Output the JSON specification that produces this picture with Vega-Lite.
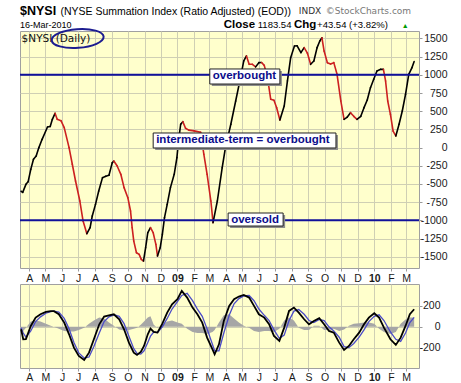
{
  "$schema": "https://vega.github.io/schema/vega-lite/v6.json",
  "background": "white",
  "padding": {"left": 16, "top": 4, "right": 5, "bottom": 3},
  "autosize": {"type": "pad"},
  "datasets": {
    "notes": [
      {"label": "overbought", "start": "2009-03-02", "end": "2009-07-10", "top": 1081, "bottom": 874, "mid": 978},
      {"label": "intermediate-term = overbought", "start": "2008-11-17", "end": "2009-10-22", "top": 201, "bottom": -5, "mid": 98},
      {"label": "oversold", "start": "2009-04-05", "end": "2009-07-16", "top": -899, "bottom": -1078, "mid": -989}
    ],
    "one": [{}]
  },
  "config": {
    "view": {"fill": "#ffffcc", "stroke": "#a0a0a0", "strokeWidth": 1},
    "axis": {"labelFont": "Liberation Sans", "labelFontSize": 10.5, "labelColor": "#1a1a1a", "gridColor": "#cfcfb4", "gridWidth": 1, "domain": false, "tickColor": "#9a9a9a", "tickSize": 3, "labelOverlap": false}
  },
  "bounds": "flush",
  "spacing": 16,
  "resolve": {"scale": {"x": "independent", "y": "independent"}},
  "vconcat": [
    {
      "width": 399,
      "height": 237,
      "encoding": {
        "y": {
          "type": "quantitative",
          "scale": {"domain": [-1655, 1603], "nice": false, "zero": false},
          "axis": {
            "title": null, "orient": "right", "grid": true,
            "values": [-1500, -1250, -1000, -750, -500, -250, 0, 250, 500, 750, 1000, 1250, 1500],
            "tickCount": 13, "labelOverlap": false, "labelSeparation": 0,
            "labelExpr": "replace(format(datum.value, 'd'), '\u2212', '-')", "labelAlign": "right", "labelPadding": 25, "labelFlush": false
          }
        }
      },
      "layer": [
        {
          "data": {
            "values": [
              {"date": "2008-03-17", "v": -600, "trend": "up"},
              {"date": "2008-03-20", "v": -615, "trend": "up"},
              {"date": "2008-03-26", "v": -505, "trend": "up"},
              {"date": "2008-03-30", "v": -470, "trend": "up"},
              {"date": "2008-04-04", "v": -299, "trend": "up"},
              {"date": "2008-04-09", "v": -161, "trend": "up"},
              {"date": "2008-04-14", "v": -115, "trend": "up"},
              {"date": "2008-04-19", "v": 0, "trend": "up"},
              {"date": "2008-04-25", "v": 114, "trend": "up"},
              {"date": "2008-05-05", "v": 283, "trend": "up"},
              {"date": "2008-05-10", "v": 290, "trend": "up"},
              {"date": "2008-05-14", "v": 389, "trend": "up"},
              {"date": "2008-05-19", "v": 471, "trend": "down"},
              {"date": "2008-05-23", "v": 389, "trend": "down"},
              {"date": "2008-05-30", "v": 370, "trend": "down"},
              {"date": "2008-06-05", "v": 274, "trend": "down"},
              {"date": "2008-06-14", "v": 0, "trend": "down"},
              {"date": "2008-06-20", "v": -229, "trend": "down"},
              {"date": "2008-06-26", "v": -459, "trend": "down"},
              {"date": "2008-07-04", "v": -734, "trend": "down"},
              {"date": "2008-07-10", "v": -1009, "trend": "down"},
              {"date": "2008-07-17", "v": -1184, "trend": "up"},
              {"date": "2008-07-23", "v": -1101, "trend": "up"},
              {"date": "2008-07-27", "v": -940, "trend": "up"},
              {"date": "2008-08-02", "v": -780, "trend": "up"},
              {"date": "2008-08-08", "v": -597, "trend": "up"},
              {"date": "2008-08-15", "v": -413, "trend": "up"},
              {"date": "2008-08-21", "v": -395, "trend": "up"},
              {"date": "2008-08-27", "v": -380, "trend": "up"},
              {"date": "2008-09-02", "v": -210, "trend": "up"},
              {"date": "2008-09-05", "v": -185, "trend": "down"},
              {"date": "2008-09-11", "v": -250, "trend": "down"},
              {"date": "2008-09-18", "v": -367, "trend": "down"},
              {"date": "2008-09-24", "v": -550, "trend": "down"},
              {"date": "2008-10-01", "v": -688, "trend": "down"},
              {"date": "2008-10-06", "v": -871, "trend": "down"},
              {"date": "2008-10-09", "v": -1101, "trend": "down"},
              {"date": "2008-10-12", "v": -1285, "trend": "down"},
              {"date": "2008-10-17", "v": -1445, "trend": "down"},
              {"date": "2008-10-22", "v": -1468, "trend": "down"},
              {"date": "2008-10-26", "v": -1536, "trend": "down"},
              {"date": "2008-10-30", "v": -1559, "trend": "up"},
              {"date": "2008-11-03", "v": -1376, "trend": "up"},
              {"date": "2008-11-07", "v": -1170, "trend": "up"},
              {"date": "2008-11-12", "v": -1101, "trend": "down"},
              {"date": "2008-11-17", "v": -1170, "trend": "down"},
              {"date": "2008-11-22", "v": -1330, "trend": "down"},
              {"date": "2008-11-25", "v": -1490, "trend": "up"},
              {"date": "2008-11-30", "v": -1376, "trend": "up"},
              {"date": "2008-12-04", "v": -1192, "trend": "up"},
              {"date": "2008-12-08", "v": -963, "trend": "up"},
              {"date": "2008-12-13", "v": -780, "trend": "up"},
              {"date": "2008-12-19", "v": -550, "trend": "up"},
              {"date": "2008-12-26", "v": -367, "trend": "up"},
              {"date": "2008-12-31", "v": -138, "trend": "up"},
              {"date": "2009-01-03", "v": 92, "trend": "up"},
              {"date": "2009-01-07", "v": 321, "trend": "up"},
              {"date": "2009-01-11", "v": 357, "trend": "down"},
              {"date": "2009-01-16", "v": 266, "trend": "down"},
              {"date": "2009-01-22", "v": 240, "trend": "down"},
              {"date": "2009-02-01", "v": 230, "trend": "down"},
              {"date": "2009-02-13", "v": 210, "trend": "down"},
              {"date": "2009-02-19", "v": -92, "trend": "down"},
              {"date": "2009-02-25", "v": -367, "trend": "down"},
              {"date": "2009-03-04", "v": -734, "trend": "down"},
              {"date": "2009-03-08", "v": -1032, "trend": "up"},
              {"date": "2009-03-16", "v": -734, "trend": "up"},
              {"date": "2009-03-25", "v": -276, "trend": "up"},
              {"date": "2009-03-31", "v": 0, "trend": "up"},
              {"date": "2009-04-10", "v": 321, "trend": "up"},
              {"date": "2009-04-19", "v": 641, "trend": "up"},
              {"date": "2009-04-28", "v": 961, "trend": "up"},
              {"date": "2009-05-04", "v": 1191, "trend": "up"},
              {"date": "2009-05-09", "v": 1260, "trend": "down"},
              {"date": "2009-05-14", "v": 1145, "trend": "down"},
              {"date": "2009-05-20", "v": 1145, "trend": "down"},
              {"date": "2009-05-26", "v": 1110, "trend": "up"},
              {"date": "2009-06-01", "v": 1168, "trend": "up"},
              {"date": "2009-06-06", "v": 1170, "trend": "down"},
              {"date": "2009-06-11", "v": 1130, "trend": "down"},
              {"date": "2009-06-17", "v": 961, "trend": "down"},
              {"date": "2009-06-23", "v": 664, "trend": "down"},
              {"date": "2009-06-29", "v": 650, "trend": "down"},
              {"date": "2009-07-04", "v": 549, "trend": "down"},
              {"date": "2009-07-10", "v": 380, "trend": "up"},
              {"date": "2009-07-18", "v": 572, "trend": "up"},
              {"date": "2009-07-24", "v": 916, "trend": "up"},
              {"date": "2009-07-30", "v": 1237, "trend": "up"},
              {"date": "2009-08-06", "v": 1397, "trend": "up"},
              {"date": "2009-08-11", "v": 1400, "trend": "up"},
              {"date": "2009-08-18", "v": 1305, "trend": "up"},
              {"date": "2009-08-24", "v": 1374, "trend": "down"},
              {"date": "2009-08-30", "v": 1300, "trend": "down"},
              {"date": "2009-09-05", "v": 1145, "trend": "up"},
              {"date": "2009-09-11", "v": 1191, "trend": "up"},
              {"date": "2009-09-17", "v": 1374, "trend": "up"},
              {"date": "2009-09-22", "v": 1466, "trend": "up"},
              {"date": "2009-09-26", "v": 1510, "trend": "down"},
              {"date": "2009-09-30", "v": 1328, "trend": "down"},
              {"date": "2009-10-06", "v": 1168, "trend": "down"},
              {"date": "2009-10-12", "v": 1150, "trend": "down"},
              {"date": "2009-10-18", "v": 1168, "trend": "down"},
              {"date": "2009-10-24", "v": 1008, "trend": "down"},
              {"date": "2009-10-31", "v": 641, "trend": "down"},
              {"date": "2009-11-06", "v": 389, "trend": "up"},
              {"date": "2009-11-12", "v": 420, "trend": "up"},
              {"date": "2009-11-18", "v": 480, "trend": "down"},
              {"date": "2009-11-24", "v": 430, "trend": "down"},
              {"date": "2009-11-30", "v": 389, "trend": "up"},
              {"date": "2009-12-07", "v": 430, "trend": "up"},
              {"date": "2009-12-13", "v": 549, "trend": "up"},
              {"date": "2009-12-19", "v": 654, "trend": "up"},
              {"date": "2009-12-25", "v": 824, "trend": "up"},
              {"date": "2009-12-31", "v": 939, "trend": "up"},
              {"date": "2010-01-06", "v": 1053, "trend": "up"},
              {"date": "2010-01-13", "v": 1076, "trend": "up"},
              {"date": "2010-01-18", "v": 1076, "trend": "down"},
              {"date": "2010-01-22", "v": 916, "trend": "down"},
              {"date": "2010-01-26", "v": 641, "trend": "down"},
              {"date": "2010-01-31", "v": 458, "trend": "down"},
              {"date": "2010-02-05", "v": 228, "trend": "down"},
              {"date": "2010-02-10", "v": 160, "trend": "up"},
              {"date": "2010-02-16", "v": 321, "trend": "up"},
              {"date": "2010-02-22", "v": 503, "trend": "up"},
              {"date": "2010-02-28", "v": 733, "trend": "up"},
              {"date": "2010-03-06", "v": 1008, "trend": "up"},
              {"date": "2010-03-12", "v": 1100, "trend": "up"},
              {"date": "2010-03-16", "v": 1184, "trend": "up"}
            ],
            "format": {"parse": {"date": "date"}}
          },
          "transform": [
            {"window": [{"op": "lead", "field": "date", "as": "date2"}, {"op": "lead", "field": "v", "as": "v2"}], "sort": [{"field": "date", "order": "ascending"}]},
            {"filter": "isValid(datum.v2)"}
          ],
          "mark": {"type": "rule", "strokeWidth": 1.6, "strokeCap": "round"},
          "encoding": {
            "x": {
              "field": "date", "type": "temporal",
              "scale": {"type": "utc", "domain": [{"year": 2008, "month": 3, "date": 15, "utc": true}, {"year": 2010, "month": 3, "date": 25, "utc": true}]},
              "axis": {
                "title": null, "orient": "bottom", "grid": true,
                "tickCount": {"interval": "month", "step": 1},
                "labelExpr": "utcmonth(datum.value) == 0 ? utcFormat(datum.value, '%y') : slice(utcFormat(datum.value, '%b'), 0, 1)",
                "labelFontWeight": {"condition": {"test": "utcmonth(datum.value) == 0", "value": "bold"}, "value": "normal"},
                "labelPadding": 2, "labelFlush": false, "labelOverlap": false, "labelAngle": 0
              }
            },
            "x2": {"field": "date2"},
            "y": {"field": "v"},
            "y2": {"field": "v2"},
            "color": {"field": "trend", "type": "nominal", "scale": {"domain": ["up", "down"], "range": ["#000000", "#cc2020"]}, "legend": null}
          }
        },
        {
          "data": {"values": [{"lvl": 1000}, {"lvl": -1000}]},
          "mark": {"type": "rule", "color": "#10109a", "strokeWidth": 2},
          "encoding": {"y": {"field": "lvl"}}
        },
        {
          "data": {"name": "notes"},
          "mark": {"type": "rect", "color": "#8c8c8c", "xOffset": 2, "x2Offset": 2, "yOffset": 2, "y2Offset": 2},
          "encoding": {
            "x": {"field": "start", "type": "temporal"},
            "x2": {"field": "end"},
            "y": {"field": "top"},
            "y2": {"field": "bottom"}
          }
        },
        {
          "data": {"name": "notes"},
          "mark": {"type": "rect", "fill": "#ffffff", "stroke": "#222222", "strokeWidth": 1},
          "encoding": {
            "x": {"field": "start", "type": "temporal"},
            "x2": {"field": "end"},
            "y": {"field": "top"},
            "y2": {"field": "bottom"}
          }
        },
        {
          "data": {"name": "notes"},
          "mark": {"type": "text", "align": "left", "baseline": "middle", "dx": 3, "font": "Liberation Sans", "fontSize": 11.5, "fontWeight": "bold", "color": "#0c0c8c"},
          "encoding": {
            "x": {"field": "start", "type": "temporal"},
            "y": {"field": "mid"},
            "text": {"field": "label"}
          }
        },
        {
          "data": {"name": "one"},
          "mark": {"type": "text", "align": "left", "baseline": "alphabetic", "font": "DejaVu Sans", "fontSize": 10.5, "color": "#111111", "text": "$NYSI (Daily)"},
          "encoding": {
            "x": {"datum": {"year": 2008, "month": 3, "date": 18, "utc": true}, "type": "temporal"},
            "y": {"datum": 1452}
          }
        },
        {
          "data": {"name": "one"},
          "mark": {"type": "point", "shape": "M-1,0A1,0.36,0,1,1,1,0A1,0.36,0,1,1,-1,0Z", "size": 2704, "filled": false, "stroke": "#1c1c90", "strokeWidth": 2, "opacity": 1, "angle": -4},
          "encoding": {
            "x": {"datum": {"year": 2008, "month": 6, "date": 30, "utc": true}, "type": "temporal"},
            "y": {"datum": 1500}
          }
        },
        {
          "data": {"name": "one"},
          "mark": {"type": "text", "align": "left", "baseline": "alphabetic", "font": "Liberation Sans", "color": "#000000", "fontSize": 12.5, "fontWeight": "bold", "text": "$NYSI"},
          "encoding": {
            "x": {"datum": {"year": 2008, "month": 3, "date": 15, "utc": true}, "type": "temporal"},
            "y": {"datum": 1826}
          }
        },
        {
          "data": {"name": "one"},
          "mark": {"type": "text", "align": "left", "baseline": "alphabetic", "font": "Liberation Sans", "color": "#000000", "fontSize": 10.5, "text": "(NYSE Summation Index (Ratio Adjusted) (EOD))"},
          "encoding": {
            "x": {"datum": {"year": 2008, "month": 5, "date": 29, "utc": true}, "type": "temporal"},
            "y": {"datum": 1827}
          }
        },
        {
          "data": {"name": "one"},
          "mark": {"type": "text", "align": "left", "baseline": "alphabetic", "font": "DejaVu Sans", "fontSize": 9, "color": "#333333", "text": "INDX"},
          "encoding": {
            "x": {"datum": {"year": 2009, "month": 8, "date": 14, "utc": true}, "type": "temporal"},
            "y": {"datum": 1830}
          }
        },
        {
          "data": {"name": "one"},
          "mark": {"type": "text", "align": "left", "baseline": "alphabetic", "font": "DejaVu Sans", "fontSize": 9, "color": "#777777", "text": "©StockCharts.com"},
          "encoding": {
            "x": {"datum": {"year": 2009, "month": 10, "date": 3, "utc": true}, "type": "temporal"},
            "y": {"datum": 1830}
          }
        },
        {
          "data": {"name": "one"},
          "mark": {"type": "text", "align": "left", "baseline": "alphabetic", "font": "Liberation Sans", "color": "#000000", "fontSize": 9, "text": "16-Mar-2010"},
          "encoding": {
            "x": {"datum": {"year": 2008, "month": 3, "date": 15, "utc": true}, "type": "temporal"},
            "y": {"datum": 1648}
          }
        },
        {
          "data": {"name": "one"},
          "mark": {"type": "text", "align": "left", "baseline": "alphabetic", "font": "Liberation Sans", "color": "#000000", "fontSize": 11.5, "fontWeight": "bold", "text": "Close"},
          "encoding": {
            "x": {"datum": {"year": 2009, "month": 3, "date": 28, "utc": true}, "type": "temporal"},
            "y": {"datum": 1644}
          }
        },
        {
          "data": {"name": "one"},
          "mark": {"type": "text", "align": "left", "baseline": "alphabetic", "font": "Liberation Sans", "color": "#000000", "fontSize": 9.5, "text": "1183.54"},
          "encoding": {
            "x": {"datum": {"year": 2009, "month": 5, "date": 30, "utc": true}, "type": "temporal"},
            "y": {"datum": 1644}
          }
        },
        {
          "data": {"name": "one"},
          "mark": {"type": "text", "align": "left", "baseline": "alphabetic", "font": "Liberation Sans", "color": "#000000", "fontSize": 11.5, "fontWeight": "bold", "text": "Chg"},
          "encoding": {
            "x": {"datum": {"year": 2009, "month": 8, "date": 5, "utc": true}, "type": "temporal"},
            "y": {"datum": 1644}
          }
        },
        {
          "data": {"name": "one"},
          "mark": {"type": "text", "align": "left", "baseline": "alphabetic", "font": "Liberation Sans", "color": "#000000", "fontSize": 9.5, "text": "+43.54 (+3.82%)"},
          "encoding": {
            "x": {"datum": {"year": 2009, "month": 9, "date": 17, "utc": true}, "type": "temporal"},
            "y": {"datum": 1644}
          }
        },
        {
          "data": {"name": "one"},
          "mark": {"type": "text", "align": "left", "baseline": "alphabetic", "font": "Liberation Sans", "fontSize": 7, "color": "#009a00", "text": "▲"},
          "encoding": {
            "x": {"datum": {"year": 2010, "month": 2, "date": 21, "utc": true}, "type": "temporal"},
            "y": {"datum": 1651}
          }
        }
      ]
    },
    {
      "width": 399,
      "height": 84,
      "data": {
        "values": [
          {"date": "2008-03-17", "osc": -24, "sig": -10, "hist": -10},
          {"date": "2008-03-21", "osc": -120, "sig": -60, "hist": -40},
          {"date": "2008-03-26", "osc": -118, "sig": -100, "hist": -10},
          {"date": "2008-04-04", "osc": 8, "sig": -40, "hist": 50},
          {"date": "2008-04-13", "osc": 88, "sig": 50, "hist": 60},
          {"date": "2008-04-22", "osc": 120, "sig": 95, "hist": 50},
          {"date": "2008-05-02", "osc": 142, "sig": 130, "hist": 30},
          {"date": "2008-05-11", "osc": 150, "sig": 145, "hist": 10},
          {"date": "2008-05-17", "osc": 150, "sig": 150, "hist": 0},
          {"date": "2008-05-26", "osc": 120, "sig": 140, "hist": -20},
          {"date": "2008-06-05", "osc": 40, "sig": 80, "hist": -40},
          {"date": "2008-06-14", "osc": -72, "sig": -20, "hist": -45},
          {"date": "2008-06-23", "osc": -200, "sig": -150, "hist": -45},
          {"date": "2008-07-02", "osc": -280, "sig": -250, "hist": -30},
          {"date": "2008-07-12", "osc": -318, "sig": -300, "hist": -10},
          {"date": "2008-07-21", "osc": -248, "sig": -290, "hist": 30},
          {"date": "2008-07-30", "osc": -120, "sig": -190, "hist": 60},
          {"date": "2008-08-09", "osc": 24, "sig": -60, "hist": 90},
          {"date": "2008-08-18", "osc": 98, "sig": 50, "hist": 80},
          {"date": "2008-08-27", "osc": 110, "sig": 95, "hist": 40},
          {"date": "2008-09-05", "osc": 120, "sig": 115, "hist": 10},
          {"date": "2008-09-15", "osc": 72, "sig": 100, "hist": -25},
          {"date": "2008-09-24", "osc": -24, "sig": 30, "hist": -35},
          {"date": "2008-10-03", "osc": -152, "sig": -90, "hist": -30},
          {"date": "2008-10-12", "osc": -248, "sig": -210, "hist": -20},
          {"date": "2008-10-18", "osc": -270, "sig": -255, "hist": -10},
          {"date": "2008-10-25", "osc": -240, "sig": -262, "hist": 20},
          {"date": "2008-10-31", "osc": -184, "sig": -230, "hist": 50},
          {"date": "2008-11-07", "osc": -72, "sig": -150, "hist": 90},
          {"date": "2008-11-12", "osc": -18, "sig": -90, "hist": 100},
          {"date": "2008-11-18", "osc": -50, "sig": -50, "hist": 20},
          {"date": "2008-11-25", "osc": -56, "sig": -55, "hist": -10},
          {"date": "2008-12-04", "osc": 30, "sig": 0, "hist": 20},
          {"date": "2008-12-13", "osc": 136, "sig": 80, "hist": 50},
          {"date": "2008-12-22", "osc": 216, "sig": 170, "hist": 60},
          {"date": "2009-01-01", "osc": 264, "sig": 240, "hist": 40},
          {"date": "2009-01-09", "osc": 344, "sig": 300, "hist": 30},
          {"date": "2009-01-19", "osc": 280, "sig": 320, "hist": -20},
          {"date": "2009-01-29", "osc": 184, "sig": 250, "hist": -50},
          {"date": "2009-02-07", "osc": 120, "sig": 170, "hist": -60},
          {"date": "2009-02-16", "osc": 40, "sig": 100, "hist": -60},
          {"date": "2009-02-25", "osc": -104, "sig": -20, "hist": -70},
          {"date": "2009-03-07", "osc": -216, "sig": -170, "hist": -50},
          {"date": "2009-03-11", "osc": -264, "sig": -230, "hist": -30},
          {"date": "2009-03-19", "osc": -168, "sig": -230, "hist": 40},
          {"date": "2009-03-28", "osc": 56, "sig": -60, "hist": 110},
          {"date": "2009-04-07", "osc": 200, "sig": 110, "hist": 120},
          {"date": "2009-04-16", "osc": 264, "sig": 220, "hist": 80},
          {"date": "2009-04-25", "osc": 290, "sig": 270, "hist": 40},
          {"date": "2009-05-04", "osc": 305, "sig": 295, "hist": 10},
          {"date": "2009-05-14", "osc": 280, "sig": 300, "hist": -10},
          {"date": "2009-05-23", "osc": 200, "sig": 250, "hist": -40},
          {"date": "2009-06-01", "osc": 120, "sig": 170, "hist": -50},
          {"date": "2009-06-11", "osc": 88, "sig": 110, "hist": -40},
          {"date": "2009-06-20", "osc": 24, "sig": 60, "hist": -40},
          {"date": "2009-06-29", "osc": -88, "sig": -30, "hist": -50},
          {"date": "2009-07-09", "osc": -136, "sig": -110, "hist": -20},
          {"date": "2009-07-18", "osc": -8, "sig": -80, "hist": 60},
          {"date": "2009-07-27", "osc": 152, "sig": 60, "hist": 90},
          {"date": "2009-08-05", "osc": 184, "sig": 150, "hist": 60},
          {"date": "2009-08-14", "osc": 136, "sig": 165, "hist": -10},
          {"date": "2009-08-24", "osc": 72, "sig": 120, "hist": -30},
          {"date": "2009-09-02", "osc": 24, "sig": 60, "hist": -30},
          {"date": "2009-09-11", "osc": 56, "sig": 40, "hist": 10},
          {"date": "2009-09-21", "osc": 82, "sig": 70, "hist": 10},
          {"date": "2009-09-30", "osc": 24, "sig": 60, "hist": -30},
          {"date": "2009-10-09", "osc": -40, "sig": 0, "hist": -30},
          {"date": "2009-10-18", "osc": -56, "sig": -40, "hist": -20},
          {"date": "2009-10-28", "osc": -152, "sig": -100, "hist": -40},
          {"date": "2009-11-06", "osc": -222, "sig": -190, "hist": -25},
          {"date": "2009-11-15", "osc": -184, "sig": -200, "hist": 10},
          {"date": "2009-11-24", "osc": -120, "sig": -160, "hist": 30},
          {"date": "2009-12-04", "osc": -56, "sig": -100, "hist": 35},
          {"date": "2009-12-13", "osc": 24, "sig": -30, "hist": 40},
          {"date": "2009-12-22", "osc": 88, "sig": 50, "hist": 40},
          {"date": "2010-01-01", "osc": 130, "sig": 100, "hist": 30},
          {"date": "2010-01-10", "osc": 88, "sig": 115, "hist": -20},
          {"date": "2010-01-19", "osc": -8, "sig": 60, "hist": -50},
          {"date": "2010-01-31", "osc": -120, "sig": -50, "hist": -70},
          {"date": "2010-02-10", "osc": -174, "sig": -120, "hist": -50},
          {"date": "2010-02-19", "osc": -104, "sig": -140, "hist": 30},
          {"date": "2010-02-28", "osc": 8, "sig": -60, "hist": 70},
          {"date": "2010-03-08", "osc": 120, "sig": 40, "hist": 90},
          {"date": "2010-03-16", "osc": 168, "sig": 90, "hist": 90}
        ],
        "format": {"parse": {"date": "date"}}
      },
      "layer": [
        {
          "mark": {"type": "area", "color": "#a6a6a6", "opacity": 1},
          "encoding": {
            "x": {
              "field": "date", "type": "temporal",
              "scale": {"type": "utc", "domain": [{"year": 2008, "month": 3, "date": 15, "utc": true}, {"year": 2010, "month": 3, "date": 25, "utc": true}]},
              "axis": {
                "title": null, "orient": "bottom", "grid": true,
                "tickCount": {"interval": "month", "step": 1},
                "labelExpr": "utcmonth(datum.value) == 0 ? utcFormat(datum.value, '%y') : slice(utcFormat(datum.value, '%b'), 0, 1)",
                "labelFontWeight": {"condition": {"test": "utcmonth(datum.value) == 0", "value": "bold"}, "value": "normal"},
                "labelPadding": 1, "labelFlush": false, "labelOverlap": false, "labelAngle": 0
              }
            },
            "y": {
              "field": "hist", "type": "quantitative",
              "scale": {"domain": [-395, 410], "nice": false, "zero": false},
              "axis": {
                "title": null, "orient": "right", "grid": true,
                "values": [-200, 0, 200],
                "labelExpr": "replace(format(datum.value, 'd'), '\u2212', '-')", "labelAlign": "right", "labelPadding": 18, "labelOverlap": false, "labelFlush": false
              }
            }
          }
        },
        {
          "mark": {"type": "line", "color": "#4b4bc8", "strokeWidth": 1.3},
          "encoding": {
            "x": {"field": "date", "type": "temporal"},
            "y": {"field": "sig", "type": "quantitative"}
          }
        },
        {
          "mark": {"type": "line", "color": "#000000", "strokeWidth": 1.8},
          "encoding": {
            "x": {"field": "date", "type": "temporal"},
            "y": {"field": "osc", "type": "quantitative"}
          }
        }
      ]
    }
  ]
}
